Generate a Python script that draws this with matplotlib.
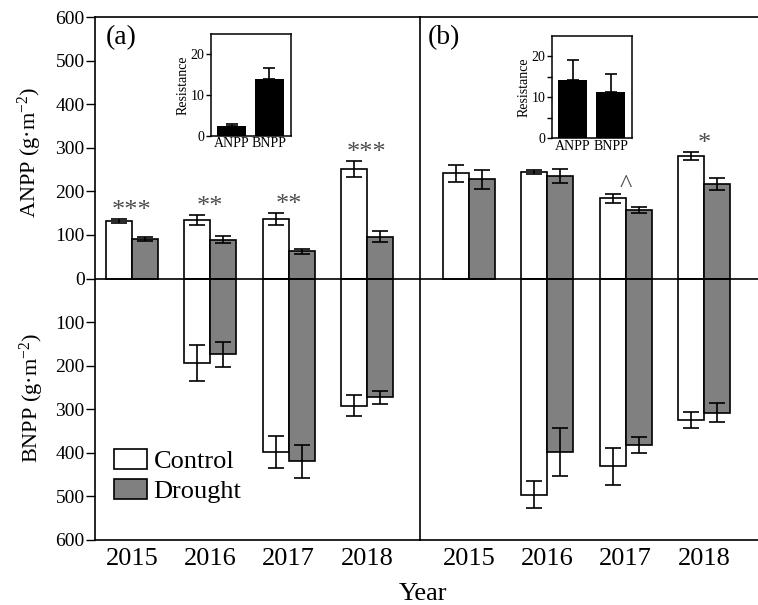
import numpy as np
import matplotlib.pyplot as plt
from matplotlib.ticker import FixedLocator, FuncFormatter

plt.rcParams['font.family'] = ['Liberation Serif', 'DejaVu Serif']
plt.rcParams['mathtext.fontset'] = 'custom'
plt.rcParams['mathtext.rm'] = 'Liberation Serif'
plt.rcParams['mathtext.default'] = 'regular'

years = ['2015', '2016', '2017', '2018']

# panel (a): ANPP above zero, BNPP below zero (g m-2), mean and SE
anpp_ctrl_a = [132, 134, 136, 251]
anpp_ctrl_a_se = [5, 12, 14, 19]
anpp_dro_a = [91, 89, 62, 96]
anpp_dro_a_se = [4, 8, 5, 12]
bnpp_ctrl_a = [0, 194, 398, 292]
bnpp_ctrl_a_se = [0, 41, 37, 24]
bnpp_dro_a = [0, 174, 419, 273]
bnpp_dro_a_se = [0, 28, 38, 16]
sig_a = ['***', '**', '**', '***']

# panel (b)
anpp_ctrl_b = [241, 244, 184, 281]
anpp_ctrl_b_se = [20, 4, 11, 10]
anpp_dro_b = [228, 235, 157, 216]
anpp_dro_b_se = [22, 16, 6, 14]
bnpp_ctrl_b = [0, 496, 431, 325]
bnpp_ctrl_b_se = [0, 31, 42, 19]
bnpp_dro_b = [0, 398, 382, 308]
bnpp_dro_b_se = [0, 56, 18, 22]
sig_b = ['', '', '^', '*']

# insets: resistance
res_labels = ['ANPP', 'BNPP']
res_a = [2.5, 14.0]
res_a_se = [0.4, 2.5]
res_b = [14.2, 11.2]
res_b_se = [5.0, 4.4]

W, H = 758, 605
fig = plt.figure(figsize=(W / 100, H / 100), dpi=100)

L = 95 / W
MID = 420 / W
B = 1 - 540 / H
T = 1 - 17 / H
ax_a = fig.add_axes([L, B, MID - L, T - B])
ax_b = fig.add_axes([MID, B, 1 - MID, T - B])

bw = 0.333
lw = 1.2


def draw_panel(ax, ac, ac_se, ad, ad_se, bc, bc_se, bd, bd_se, sig, xlim):
    x = np.arange(len(years))
    handles = []
    for off, vals, se, col, lab in [(-bw / 2, ac, ac_se, 'white', 'Control'),
                                    (bw / 2, ad, ad_se, '#808080', 'Drought')]:
        h = ax.bar(x + off, vals, bw, color=col, edgecolor='k', linewidth=lw,
                   label=lab, zorder=2)
        ax.errorbar(x + off, vals, yerr=se, fmt='none', ecolor='k',
                    elinewidth=lw, capsize=5.5, capthick=lw, zorder=3)
        handles.append(h)
    for off, vals, se, col in [(-bw / 2, bc, bc_se, 'white'),
                               (bw / 2, bd, bd_se, '#808080')]:
        vals = np.array(vals, float)
        se = np.array(se, float)
        m = vals > 0
        ax.bar((x + off)[m], -vals[m], bw, color=col, edgecolor='k',
               linewidth=lw, zorder=2)
        ax.errorbar((x + off)[m], -vals[m], yerr=se[m], fmt='none', ecolor='k',
                    elinewidth=lw, capsize=5.5, capthick=lw, zorder=3)
    # significance marks above the taller error bar
    top = np.maximum(np.array(ac) + np.array(ac_se), np.array(ad) + np.array(ad_se))
    for xi, t, s in zip(x, top, sig):
        if s:
            ax.text(xi, t + 18, s, ha='center', va='center', fontsize=19,
                    color='#4d4d4d')
    ax.axhline(0, color='k', lw=lw, zorder=4)
    ax.set_xlim(*xlim)
    ax.set_ylim(-600, 600)
    ax.set_xticks(x)
    ax.set_xticklabels(years, fontsize=19)
    ax.tick_params(axis='x', length=0, pad=6)
    for sp in ax.spines.values():
        sp.set_linewidth(lw)
    return handles


handles = draw_panel(ax_a, anpp_ctrl_a, anpp_ctrl_a_se, anpp_dro_a, anpp_dro_a_se,
                     bnpp_ctrl_a, bnpp_ctrl_a_se, bnpp_dro_a, bnpp_dro_a_se,
                     sig_a, (-0.473, 3.678))
draw_panel(ax_b, anpp_ctrl_b, anpp_ctrl_b_se, anpp_dro_b, anpp_dro_b_se,
           bnpp_ctrl_b, bnpp_ctrl_b_se, bnpp_dro_b, bnpp_dro_b_se,
           sig_b, (-0.626, 3.691))

ax_a.yaxis.set_major_locator(FixedLocator(np.arange(-600, 601, 100)))
ax_a.yaxis.set_major_formatter(FuncFormatter(lambda v, p: f'{abs(v):.0f}'))
ax_a.tick_params(axis='y', labelsize=14, length=6.5, width=1, pad=1)
ax_a.spines['right'].set_visible(False)
ax_b.set_yticks([])
ax_b.spines['right'].set_visible(False)

ax_a.text(0.034, 0.985, '(a)', transform=ax_a.transAxes, ha='left', va='top', fontsize=20)
ax_b.text(0.024, 0.985, '(b)', transform=ax_b.transAxes, ha='left', va='top', fontsize=20)

ax_a.legend(handles=handles, loc='upper left', bbox_to_anchor=(0.057, 0.174),
            frameon=False, fontsize=19, handlelength=1.27, handleheight=0.8,
            handletextpad=0.25, labelspacing=0.2, borderpad=0, borderaxespad=0)

fig.text(30 / W, 1 - 152 / H, 'ANPP (g·m$^{-2}$)', rotation=90,
         ha='center', va='center', fontsize=16)
fig.text(32 / W, 1 - 398 / H, 'BNPP (g·m$^{-2}$)', rotation=90,
         ha='center', va='center', fontsize=16)
fig.text(423 / W, 1 - 594 / H, 'Year', ha='center', va='center', fontsize=19)


def draw_inset(rect, vals, se, minor):
    ax = fig.add_axes(rect)
    xi = np.arange(len(res_labels))
    ax.bar(xi, vals, 0.75, color='k', zorder=2)
    ax.errorbar(xi, vals, yerr=[np.zeros(len(vals)), se], fmt='none', ecolor='k',
                elinewidth=1.2, capsize=4, capthick=1.2, zorder=3)
    ax.set_xlim(-0.55, 1.57)
    ax.set_ylim(0, 25)
    ax.set_yticks([0, 10, 20])
    if minor:
        ax.set_yticks([5, 15], minor=True)
        ax.tick_params(axis='y', which='minor', length=3.5, width=1)
    ax.set_xticks(xi)
    ax.set_xticklabels(res_labels, fontsize=10)
    ax.tick_params(axis='x', length=0, pad=1)
    ax.tick_params(axis='y', which='major', labelsize=10, length=3.5, width=1, pad=1)
    ax.set_ylabel('Resistance', fontsize=10, labelpad=1)
    for sp in ax.spines.values():
        sp.set_linewidth(1.1)
    return ax


draw_inset([210.7 / W, 1 - 136 / H, 80.3 / W, 102.3 / H], res_a, res_a_se, False)
draw_inset([551.7 / W, 1 - 138.3 / H, 80.6 / W, 102.3 / H], res_b, res_b_se, True)

fig.savefig('out.png', dpi=100)
